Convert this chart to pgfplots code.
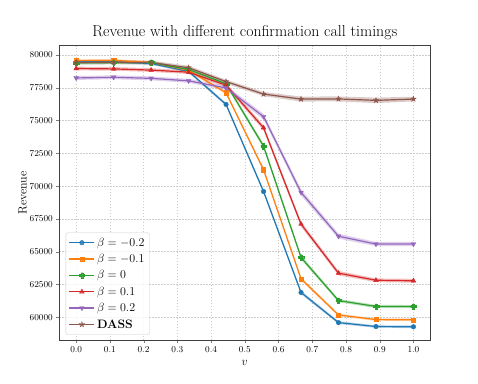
\documentclass[border=0pt]{standalone}
\usepackage{pgfplots}
\pgfplotsset{compat=1.18}
\usepackage{pgfplotstable}
\definecolor{c1}{HTML}{1F77B4}
\definecolor{c2}{HTML}{FF7F0E}
\definecolor{c3}{HTML}{2CA02C}
\definecolor{c4}{HTML}{D62728}
\definecolor{c5}{HTML}{9467BD}
\definecolor{c6}{HTML}{8C564B}
\pgfdeclareplotmark{Pplus}{%
  \pgfpathmoveto{\pgfqpoint{-\pgfplotmarksize}{-0.36\pgfplotmarksize}}%
  \pgfpathlineto{\pgfqpoint{-0.36\pgfplotmarksize}{-0.36\pgfplotmarksize}}%
  \pgfpathlineto{\pgfqpoint{-0.36\pgfplotmarksize}{-\pgfplotmarksize}}%
  \pgfpathlineto{\pgfqpoint{0.36\pgfplotmarksize}{-\pgfplotmarksize}}%
  \pgfpathlineto{\pgfqpoint{0.36\pgfplotmarksize}{-0.36\pgfplotmarksize}}%
  \pgfpathlineto{\pgfqpoint{\pgfplotmarksize}{-0.36\pgfplotmarksize}}%
  \pgfpathlineto{\pgfqpoint{\pgfplotmarksize}{0.36\pgfplotmarksize}}%
  \pgfpathlineto{\pgfqpoint{0.36\pgfplotmarksize}{0.36\pgfplotmarksize}}%
  \pgfpathlineto{\pgfqpoint{0.36\pgfplotmarksize}{\pgfplotmarksize}}%
  \pgfpathlineto{\pgfqpoint{-0.36\pgfplotmarksize}{\pgfplotmarksize}}%
  \pgfpathlineto{\pgfqpoint{-0.36\pgfplotmarksize}{0.36\pgfplotmarksize}}%
  \pgfpathlineto{\pgfqpoint{-\pgfplotmarksize}{0.36\pgfplotmarksize}}%
  \pgfpathclose\pgfusepathqfillstroke}
\pgfdeclareplotmark{fstar}{%
  \pgfpathmoveto{\pgfqpoint{0pt}{\pgfplotmarksize}}%
  \pgfpathlineto{\pgfqpoint{-0.235\pgfplotmarksize}{0.324\pgfplotmarksize}}%
  \pgfpathlineto{\pgfqpoint{-0.951\pgfplotmarksize}{0.309\pgfplotmarksize}}%
  \pgfpathlineto{\pgfqpoint{-0.380\pgfplotmarksize}{-0.124\pgfplotmarksize}}%
  \pgfpathlineto{\pgfqpoint{-0.588\pgfplotmarksize}{-0.809\pgfplotmarksize}}%
  \pgfpathlineto{\pgfqpoint{0pt}{-0.4\pgfplotmarksize}}%
  \pgfpathlineto{\pgfqpoint{0.588\pgfplotmarksize}{-0.809\pgfplotmarksize}}%
  \pgfpathlineto{\pgfqpoint{0.380\pgfplotmarksize}{-0.124\pgfplotmarksize}}%
  \pgfpathlineto{\pgfqpoint{0.951\pgfplotmarksize}{0.309\pgfplotmarksize}}%
  \pgfpathlineto{\pgfqpoint{0.235\pgfplotmarksize}{0.324\pgfplotmarksize}}%
  \pgfpathclose\pgfusepathqfillstroke}

% series: x, mean
\pgfplotstableread{
x y
0 79480
0.1111 79480
0.2222 79350
0.3333 78750
0.4444 76230
0.5556 69590
0.6667 61890
0.7778 59590
0.8889 59290
1.0 59270
}\tA
\pgfplotstableread{
x y
0 79570
0.1111 79590
0.2222 79440
0.3333 78830
0.4444 77120
0.5556 71250
0.6667 62930
0.7778 60170
0.8889 59820
1.0 59800
}\tB
\pgfplotstableread{
x y
0 79400
0.1111 79420
0.2222 79420
0.3333 78900
0.4444 77800
0.5556 73050
0.6667 64560
0.7778 61270
0.8889 60820
1.0 60810
}\tC
\pgfplotstableread{
x y
0 78970
0.1111 78940
0.2222 78850
0.3333 78690
0.4444 77700
0.5556 74450
0.6667 67100
0.7778 63360
0.8889 62820
1.0 62780
}\tD
\pgfplotstableread{
x y
0 78250
0.1111 78300
0.2222 78220
0.3333 78030
0.4444 77490
0.5556 75300
0.6667 69520
0.7778 66180
0.8889 65580
1.0 65580
}\tE
\pgfplotstableread{
x y
0 79430
0.1111 79450
0.2222 79420
0.3333 79030
0.4444 77970
0.5556 77020
0.6667 76640
0.7778 76650
0.8889 76540
1.0 76640
}\tF
% confidence bands: upper edge forward, lower edge backward
\pgfplotstableread{
x y
0 79580
0.1111 79580
0.2222 79450
0.3333 78850
0.4444 76360
0.5556 69730
0.6667 62030
0.7778 59700
0.8889 59390
1.0 59370
1.0 59170
0.8889 59190
0.7778 59480
0.6667 61750
0.5556 69450
0.4444 76100
0.3333 78650
0.2222 79250
0.1111 79380
0 79380
}\bA
\pgfplotstableread{
x y
0 79670
0.1111 79690
0.2222 79540
0.3333 78930
0.4444 77240
0.5556 71390
0.6667 63070
0.7778 60280
0.8889 59920
1.0 59900
1.0 59700
0.8889 59720
0.7778 60060
0.6667 62790
0.5556 71110
0.4444 77000
0.3333 78730
0.2222 79340
0.1111 79490
0 79470
}\bB
\pgfplotstableread{
x y
0 79520
0.1111 79540
0.2222 79540
0.3333 79020
0.4444 77950
0.5556 73220
0.6667 64730
0.7778 61400
0.8889 60940
1.0 60930
1.0 60690
0.8889 60700
0.7778 61140
0.6667 64390
0.5556 72880
0.4444 77650
0.3333 78780
0.2222 79300
0.1111 79300
0 79280
}\bC
\pgfplotstableread{
x y
0 79110
0.1111 79080
0.2222 78990
0.3333 78830
0.4444 77860
0.5556 74650
0.6667 67300
0.7778 63530
0.8889 62960
1.0 62930
1.0 62630
0.8889 62680
0.7778 63190
0.6667 66900
0.5556 74250
0.4444 77540
0.3333 78550
0.2222 78710
0.1111 78800
0 78830
}\bD
\pgfplotstableread{
x y
0 78400
0.1111 78450
0.2222 78370
0.3333 78180
0.4444 77660
0.5556 75520
0.6667 69760
0.7778 66370
0.8889 65740
1.0 65740
1.0 65420
0.8889 65420
0.7778 65990
0.6667 69280
0.5556 75080
0.4444 77320
0.3333 77880
0.2222 78070
0.1111 78150
0 78100
}\bE
\pgfplotstableread{
x y
0 79580
0.1111 79600
0.2222 79570
0.3333 79180
0.4444 78120
0.5556 77180
0.6667 76830
0.7778 76840
0.8889 76750
1.0 76820
1.0 76460
0.8889 76330
0.7778 76460
0.6667 76450
0.5556 76860
0.4444 77820
0.3333 78880
0.2222 79270
0.1111 79300
0 79280
}\bF

\begin{document}
\begin{tikzpicture}
\path[use as bounding box] (0,0) rectangle (478pt,383pt);
\begin{axis}[
  at={(59.3pt,42.7pt)}, anchor=south west,
  scale only axis, width=371pt, height=294.6pt,
  xmin=-0.05, xmax=1.05, ymin=58240, ymax=80710,
  scaled y ticks=false, scaled x ticks=false,
  xtick={0,0.1,0.2,0.3,0.4,0.5,0.6,0.7,0.8,0.9,1.0},
  xticklabels={0.0,0.1,0.2,0.3,0.4,0.5,0.6,0.7,0.8,0.9,1.0},
  ytick={60000,62500,65000,67500,70000,72500,75000,77500,80000},
  yticklabels={60000,62500,65000,67500,70000,72500,75000,77500,80000},
  tick label style={font=\fontsize{9}{10}\selectfont},
  tick align=outside, tick pos=left,
  major tick length=3pt,
  axis line style={black!75, line width=0.7pt},
  grid=major,
  grid style={gray!40, dash pattern=on 1.6pt off 1.4pt, line width=0.4pt},
  title={Revenue with different confirmation call timings},
  title style={font=\fontsize{15.8}{17}\selectfont, at={(0.5,1)}, anchor=base, yshift=3pt},
  ylabel={Revenue},
  ylabel style={font=\fontsize{12}{13}\selectfont, at={(axis description cs:-0.0987,0.5)}, anchor=center},
  xlabel={$v$},
  xlabel style={font=\fontsize{13}{14}\selectfont, at={(axis description cs:0.5,-0.077)}, anchor=center},
  legend style={at={(0.017,0.019)}, anchor=south west, draw=black!20, rounded corners=2pt,
    fill=white, fill opacity=0.8, text opacity=1, font=\fontsize{12.2}{14}\selectfont,
    row sep=2.5pt, inner xsep=3pt, inner ysep=3pt},
  legend cell align=left,
  legend image code/.code={\draw[mark repeat=2,mark phase=2] plot coordinates {(0pt,0pt)(12.5pt,0pt)(25pt,0pt)};},
]
% bands
\addplot[draw=none, fill=c1, fill opacity=0.3, forget plot] table[x=x,y=y]{\bA} -- cycle;
\addplot[draw=none, fill=c2, fill opacity=0.3, forget plot] table[x=x,y=y]{\bB} -- cycle;
\addplot[draw=none, fill=c3, fill opacity=0.3, forget plot] table[x=x,y=y]{\bC} -- cycle;
\addplot[draw=none, fill=c4, fill opacity=0.3, forget plot] table[x=x,y=y]{\bD} -- cycle;
\addplot[draw=none, fill=c5, fill opacity=0.3, forget plot] table[x=x,y=y]{\bE} -- cycle;
\addplot[draw=none, fill=c6, fill opacity=0.3, forget plot] table[x=x,y=y]{\bF} -- cycle;
% lines
\addplot[c1, line width=1.2pt, mark=*, mark size=2.3pt, mark options={solid, line width=0.4pt}] table[x=x,y=y]{\tA};
\addlegendentry{$\beta = -0.2$}
\addplot[c2, line width=1.2pt, mark=square*, mark size=2.1pt, mark options={solid, line width=0.4pt}] table[x=x,y=y]{\tB};
\addlegendentry{$\beta = -0.1$}
\addplot[c3, line width=1.2pt, mark=Pplus, mark size=2.7pt, mark options={solid, line width=0.3pt}] table[x=x,y=y]{\tC};
\addlegendentry{$\beta = 0$}
\addplot[c4, line width=1.2pt, mark=triangle*, mark size=2.7pt, mark options={solid, line width=0.4pt}] table[x=x,y=y]{\tD};
\addlegendentry{$\beta = 0.1$}
\addplot[c5, line width=1.2pt, mark=triangle*, mark size=2.7pt, mark options={solid, rotate=180, line width=0.4pt}] table[x=x,y=y]{\tE};
\addlegendentry{$\beta = 0.2$}
\addplot[c6, line width=1.2pt, mark=fstar, mark size=2.9pt, mark options={solid, line width=0.3pt}] table[x=x,y=y]{\tF};
\addlegendentry{\textbf{DASS}}
\end{axis}
\end{tikzpicture}
\end{document}
